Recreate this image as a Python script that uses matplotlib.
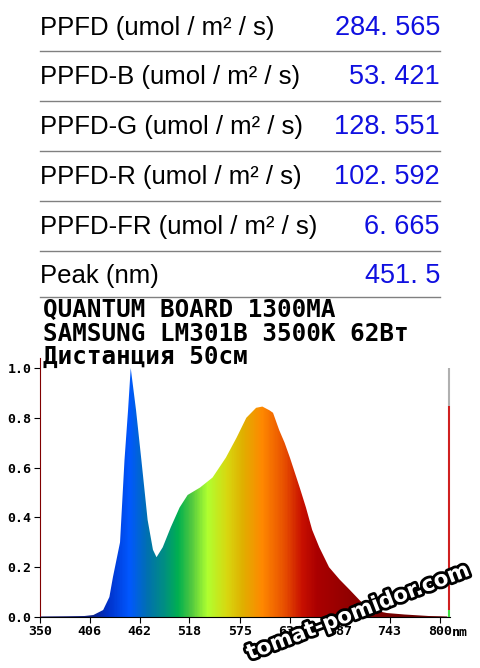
import matplotlib
matplotlib.use("Agg")
import matplotlib.pyplot as plt
import numpy as np
from matplotlib.colors import LinearSegmentedColormap
import matplotlib.patheffects as pe

# table rows
row_labels = ["PPFD (umol / m² / s)", "PPFD-B (umol / m² / s)", "PPFD-G (umol / m² / s)",
              "PPFD-R (umol / m² / s)", "PPFD-FR (umol / m² / s)", "Peak (nm)"]
row_values = ["284. 565", "53. 421", "128. 551", "102. 592", "6. 665", "451. 5"]

title_lines = ["QUANTUM BOARD 1300MA", "SAMSUNG LM301B 3500K 62Вт", "Дистанция 50см"]

# spectrum (relative)
wl = [350, 380, 400, 410, 421, 428, 432, 436, 440, 445, 449, 452, 458, 464, 471, 477,
      481, 488, 497, 507, 516, 530, 544, 559, 571, 582, 593, 600, 608, 612, 619, 625,
      631, 642, 649, 656, 664, 675, 687, 698, 710, 724, 740, 760, 787, 800, 808]
rel = [0.002, 0.003, 0.004, 0.008, 0.028, 0.08, 0.16, 0.23, 0.30, 0.63, 0.83, 1.0, 0.83,
       0.63, 0.39, 0.27, 0.24, 0.28, 0.36, 0.44, 0.49, 0.52, 0.56, 0.64, 0.72, 0.80, 0.84,
       0.845, 0.83, 0.82, 0.75, 0.70, 0.64, 0.52, 0.44, 0.35, 0.28, 0.20, 0.15, 0.11,
       0.065, 0.028, 0.016, 0.01, 0.004, 0.003, 0.002]

xticks = [350, 406, 462, 518, 575, 631, 687, 743, 800]
yticks = [0.0, 0.2, 0.4, 0.6, 0.8, 1.0]

# colour of the fill along wavelength
spec_stops = [(350, "#101060"), (405, "#102080"), (425, "#0030c8"), (450, "#0058ff"),
              (470, "#0070b0"), (490, "#009080"), (505, "#00b050"), (520, "#50c840"),
              (538, "#b0ff30"), (560, "#d8d810"), (578, "#e0b000"), (600, "#ff8800"),
              (625, "#e85000"), (645, "#c81000"), (662, "#aa0000"), (700, "#900000"),
              (760, "#700000"), (811, "#600000")]

fig = plt.figure(figsize=(4.8, 6.68), dpi=100)
W, H = 480, 668

def fx(px):
    return px / W

def fy(py):
    return 1 - py / H

row_y = [28, 77, 127, 177, 227, 276]
for lab, val, y in zip(row_labels, row_values, row_y):
    fig.text(fx(40), fy(y), lab, family="Liberation Sans", fontsize=18.5, va="center", ha="left", color="black")
    fig.text(fx(440), fy(y), val, family="Liberation Sans", fontsize=19.5, va="center", ha="right", color="#1010e0")

for ly in [51, 101, 151, 201, 251, 297]:
    fig.add_artist(plt.Line2D([fx(40), fx(440)], [fy(ly), fy(ly)], color="#808080", lw=1))

for t, y in zip(title_lines, [310, 334, 357]):
    fig.text(fx(43), fy(y), t, family="DejaVu Sans Mono", fontweight="bold", fontsize=17.5,
             va="center", ha="left", color="black")

ax = fig.add_axes([fx(40), fy(617), 410 / W, 259 / H])
ax.set_xlim(350, 811)
ax.set_ylim(0, 1.04)

pos = [(s[0] - 350) / (811 - 350) for s in spec_stops]
cmap = LinearSegmentedColormap.from_list("spec", list(zip(pos, [s[1] for s in spec_stops])))
grad = np.linspace(0, 1, 600).reshape(1, -1)
poly = ax.fill_between(wl, rel, 0, color="none", lw=0)
im = ax.imshow(grad, cmap=cmap, aspect="auto", extent=[350, 811, 0, 1.04], origin="lower", zorder=1)
im.set_clip_path(poly.get_paths()[0], transform=ax.transData)

# bar on the right edge
ax.vlines(810, 0.847, 1.0, color="#b0b0b0", lw=1.5, zorder=3, clip_on=False)
ax.vlines(810, 0.028, 0.847, color="#d02020", lw=1.5, zorder=3, clip_on=False)
ax.vlines(810, 0.0, 0.028, color="#40e040", lw=1.5, zorder=3, clip_on=False)

for s in ["top", "right"]:
    ax.spines[s].set_visible(False)
ax.spines["left"].set_color("#800000")
ax.spines["bottom"].set_color("black")
ax.set_xticks(xticks)
ax.set_xticklabels([str(v) for v in xticks])
ax.set_yticks(yticks)
ax.set_yticklabels(["%.1f" % v for v in yticks])
ax.tick_params(length=4, width=0.8, pad=2, labelsize=9.5)
for lbl in ax.get_xticklabels() + ax.get_yticklabels():
    lbl.set_family("DejaVu Sans Mono")
    lbl.set_fontweight("bold")
fig.text(fx(452), fy(632), "nm", family="DejaVu Sans Mono", fontsize=9.5, fontweight="bold",
         va="center", ha="left")

# watermark
fig.text(fx(358), fy(612), "tomat-pomidor.com", fontsize=15.5, fontweight="heavy",
         family="DejaVu Sans", color="white", rotation=21, ha="center", va="center",
         path_effects=[pe.withStroke(linewidth=4, foreground="black")])

fig.savefig("out.png", dpi=100)
